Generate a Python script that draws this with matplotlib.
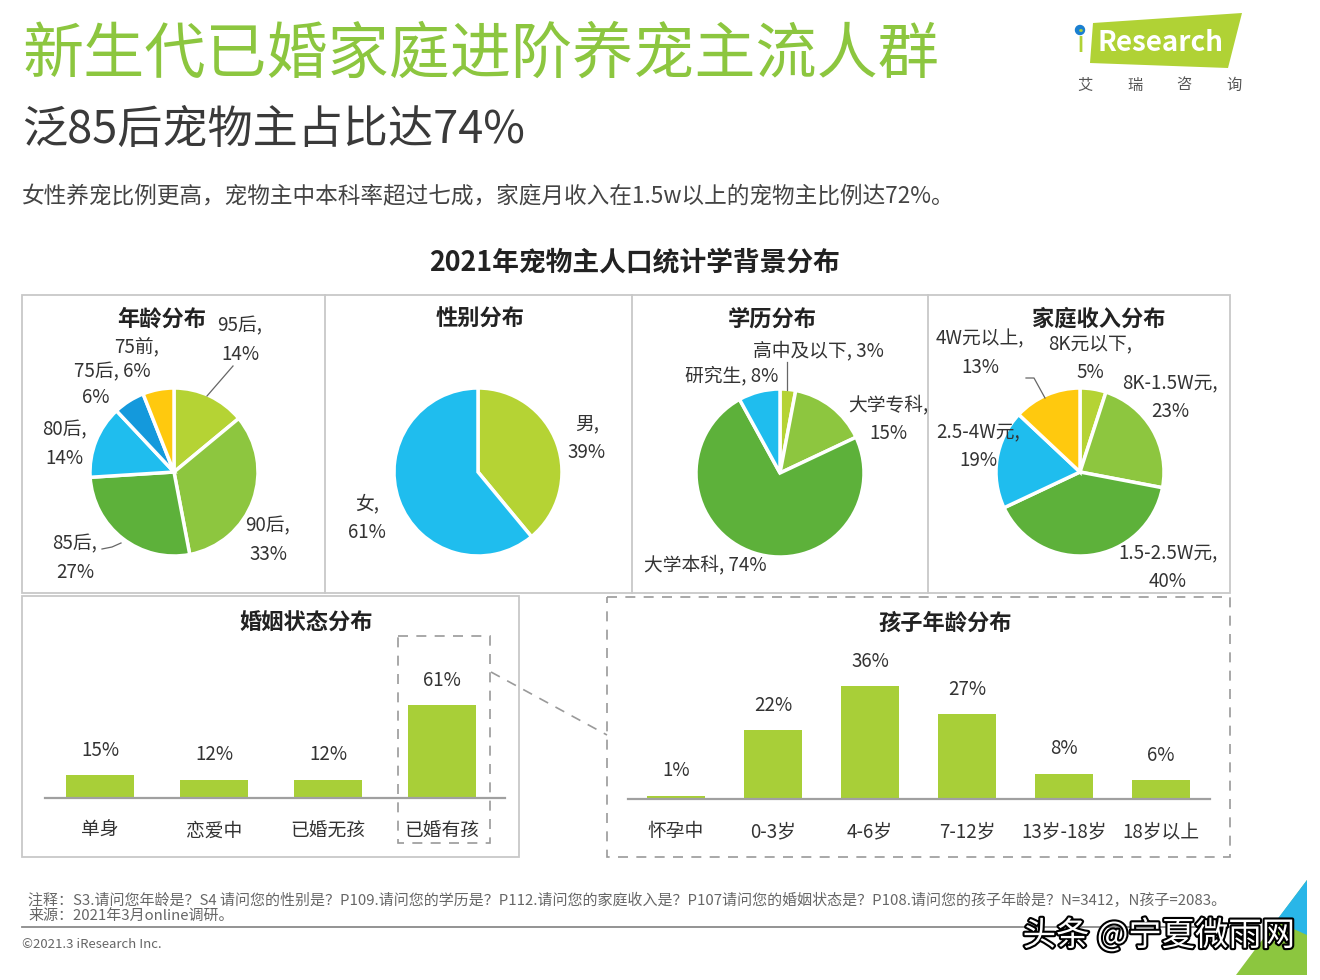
import matplotlib.pyplot as plt
from matplotlib.patches import Rectangle, Polygon, Circle
import matplotlib.patheffects as pe

plt.rcParams['font.family'] = ['Noto Sans CJK SC', 'DejaVu Sans']

W, H = 1320, 980

# ---- data ----
age_names = ['95后', '90后', '85后', '80后', '75后', '75前']
age_vals = [14, 33, 27, 14, 6, 6]
gender_names = ['男', '女']
gender_vals = [39, 61]
edu_names = ['高中及以下', '大学专科', '大学本科', '研究生']
edu_vals = [3, 15, 74, 8]
income_names = ['8K元以下', '8K-1.5W元', '1.5-2.5W元', '2.5-4W元', '4W元以上']
income_vals = [5, 23, 40, 19, 13]
marriage_labels = ['单身', '恋爱中', '已婚无孩', '已婚有孩']
marriage_vals = [15, 12, 12, 61]
child_labels = ['怀孕中', '0-3岁', '4-6岁', '7-12岁', '13岁-18岁', '18岁以上']
child_vals = [1, 22, 36, 27, 8, 6]

# ---- colours ----
YG = '#b5d334'
GR = '#8dc63f'
DG = '#5db13a'
LB = '#1fbdee'
BL = '#1499dc'
YE = '#ffc90e'
BAR = '#a8cf38'
TXT = '#333333'

fig = plt.figure(figsize=(W / 100, H / 100), dpi=100)
fig.patch.set_facecolor('white')

# overlay in pixel coords, drawn above the pies so labels can overlap them
bg = fig.add_axes([0, 0, 1, 1], zorder=3)
bg.set_xlim(0, W)
bg.set_ylim(H, 0)
bg.set_facecolor('none')
bg.axis('off')


def px_axes(x0, y0, x1, y1):
    ax = fig.add_axes([x0 / W, 1 - y1 / H, (x1 - x0) / W, (y1 - y0) / H], zorder=2)
    ax.set_facecolor('none')
    return ax


def txt(x, y, s, size=13.5, **kw):
    kw.setdefault('color', TXT)
    kw.setdefault('ha', 'center')
    kw.setdefault('va', 'center')
    bg.text(x, y, s, fontsize=size, linespacing=1.45, **kw)


# ---- headings ----
txt(22, 55, '新生代已婚家庭进阶养宠主流人群', size=44, color='#8cc63f', ha='left')
txt(22, 130, '泛85后宠物主占比达74%', size=32.5, color='#3a3a3a', ha='left')
txt(22, 197, '女性养宠比例更高，宠物主中本科率超过七成，家庭月收入在1.5w以上的宠物主比例达72%。',
    size=16.3, color='#444444', ha='left')
txt(635, 262, '2021年宠物主人口统计学背景分布', size=19.3, color='#222222', fontweight='bold')

# ---- logo ----
bg.add_patch(Polygon([(1093, 23), (1242, 13), (1228, 68), (1090, 63)], closed=True,
                     facecolor='#b0d235', edgecolor='none'))
bg.add_patch(Circle((1080, 30), 4.5, color='#1a7fd0'))
txt(1081, 44, 'i', size=21, color='#b0d235', ha='center')
txt(1160, 43, 'Research', size=20, color='white', fontweight='bold')
for x, ch in zip([1085, 1135, 1184, 1234], '艾瑞咨询'):
    txt(x, 85, ch, size=11, color='#555555')

# ---- panel frames ----
frame = dict(fill=False, edgecolor='#c8c8c8', lw=1.3)
bg.add_patch(Rectangle((22, 295), 1208, 298, **frame))
for x in [325, 632, 928]:
    bg.plot([x, x], [295, 593], color='#c8c8c8', lw=1.3)
bg.add_patch(Rectangle((22, 596), 497, 261, **frame))
bg.add_patch(Rectangle((607, 597), 623, 260, fill=False, edgecolor='#9a9a9a', lw=1.2,
                       linestyle=(0, (6, 5))))
bg.add_patch(Rectangle((398, 636), 92, 207, fill=False, edgecolor='#9a9a9a', lw=1.2,
                       linestyle=(0, (6, 5))))
bg.plot([491, 607], [672, 735], color='#9a9a9a', lw=1.2, linestyle=(0, (6, 5)))

for x, y, s in [(162, 319, '年龄分布'), (480, 319, '性别分布'), (772, 319, '学历分布'),
                (1099, 319, '家庭收入分布'), (306, 623, '婚姻状态分布'),
                (945, 623, '孩子年龄分布')]:
    txt(x, y, s, size=16, color='#222222', fontweight='bold')

# ---- pies ----
R = 84


def draw_pie(cx, cy, vals, colors):
    ax = px_axes(cx - 150, cy - 150, cx + 150, cy + 150)
    ax.pie(vals, colors=colors, startangle=90, counterclock=False, radius=1,
           wedgeprops=dict(edgecolor='white', linewidth=2.5))
    lim = 150 / R
    ax.set_xlim(-lim, lim)
    ax.set_ylim(-lim, lim)
    ax.set_aspect('equal')
    ax.axis('off')


draw_pie(174, 472, age_vals, [YG, GR, DG, LB, BL, YE])
draw_pie(478, 472, gender_vals, [YG, LB])
draw_pie(780, 473, edu_vals, [YG, GR, DG, LB])
draw_pie(1080, 472, income_vals, [YG, GR, DG, LB, YE])

# pie labels
txt(240, 340, f'{age_names[0]},\n{age_vals[0]}%')
txt(268, 540, f'{age_names[1]},\n{age_vals[1]}%')
txt(75, 558, f'{age_names[2]},\n{age_vals[2]}%')
txt(64, 444, f'{age_names[3]},\n{age_vals[3]}%')
txt(137, 347, f'{age_names[5]},')
txt(112, 372, f'{age_names[4]}, {age_vals[5]}%')
txt(96, 397, f'{age_vals[4]}%')
bg.plot([233, 207], [366, 396], color='#666666', lw=0.9)
bg.plot([102, 112, 121], [549, 547, 543], color='#666666', lw=0.9)

txt(587, 438, f'{gender_names[0]},\n{gender_vals[0]}%')
txt(367, 518, f'{gender_names[1]},\n{gender_vals[1]}%')

txt(818, 351, f'{edu_names[0]}, {edu_vals[0]}%')
txt(888, 419, f'{edu_names[1]},\n{edu_vals[1]}%')
txt(705, 565, f'{edu_names[2]}, {edu_vals[2]}%')
txt(732, 376, f'{edu_names[3]}, {edu_vals[3]}%')
bg.plot([787, 787], [362, 390], color='#666666', lw=0.9)

txt(1090, 358, f'{income_names[0]},\n{income_vals[0]}%')
txt(1170, 397, f'{income_names[1]},\n{income_vals[1]}%')
txt(1168, 567, f'{income_names[2]},\n{income_vals[2]}%')
txt(978, 446, f'{income_names[3]},\n{income_vals[3]}%')
txt(980, 353, f'{income_names[4]},\n{income_vals[4]}%')
bg.plot([1026, 1034, 1045], [378, 378, 398], color='#666666', lw=0.9)


# ---- bar charts ----
def draw_bars(x0, x1, base, step, first, labels, vals, ymax):
    ax = px_axes(x0, base - 140, x1, base)
    pos = list(range(len(vals)))
    ax.bar(pos, vals, width=0.59, color=BAR)
    ax.set_xlim((x0 - first) / step, (x1 - first) / step)
    ax.set_ylim(0, ymax)
    for p, v in zip(pos, vals):
        ax.annotate(f'{v}%', (p, v), xytext=(0, 18), textcoords='offset points',
                    ha='center', va='center', fontsize=13.5, color=TXT)
    ax.set_xticks(pos)
    ax.set_xticklabels(labels, fontsize=13.5, color=TXT)
    ax.tick_params(axis='x', length=0, pad=16)
    ax.set_yticks([])
    for s in ['top', 'left', 'right']:
        ax.spines[s].set_visible(False)
    ax.spines['bottom'].set_color('#a0a0a0')
    ax.spines['bottom'].set_linewidth(1.6)


draw_bars(45, 505, 798, 114, 100, marriage_labels, marriage_vals, 61 * 140 / 93)
draw_bars(628, 1210, 799, 97, 676, child_labels, child_vals, 140 / 3.13)

# ---- footer ----
txt(28, 900, '注释：S3.请问您年龄是？S4 请问您的性别是？P109.请问您的学历是？P112.请问您的家庭收入是？'
    'P107请问您的婚姻状态是？P108.请问您的孩子年龄是？N=3412，N孩子=2083。',
    size=10.8, color='#666666', ha='left')
txt(28, 916, '来源：2021年3月online调研。', size=10.8, color='#666666', ha='left')
bg.plot([22, 1245], [927, 927], color='#8a8a8a', lw=1.3)
txt(22, 944, '©2021.3 iResearch Inc.', size=9.5, color='#666666', ha='left')

bg.add_patch(Polygon([(1236, 975), (1307, 880), (1307, 975)], closed=True,
                     facecolor='#8cc63f', edgecolor='none'))
bg.add_patch(Polygon([(1276, 921), (1307, 880), (1307, 935)], closed=True,
                     facecolor='#29b6e8', edgecolor='none'))

bg.text(1159, 936, '头条 @宁夏微雨网', fontsize=24, color='white', ha='center', va='center',
        path_effects=[pe.withStroke(linewidth=3, foreground='black')])

fig.savefig('out.png', dpi=100, facecolor='white')
